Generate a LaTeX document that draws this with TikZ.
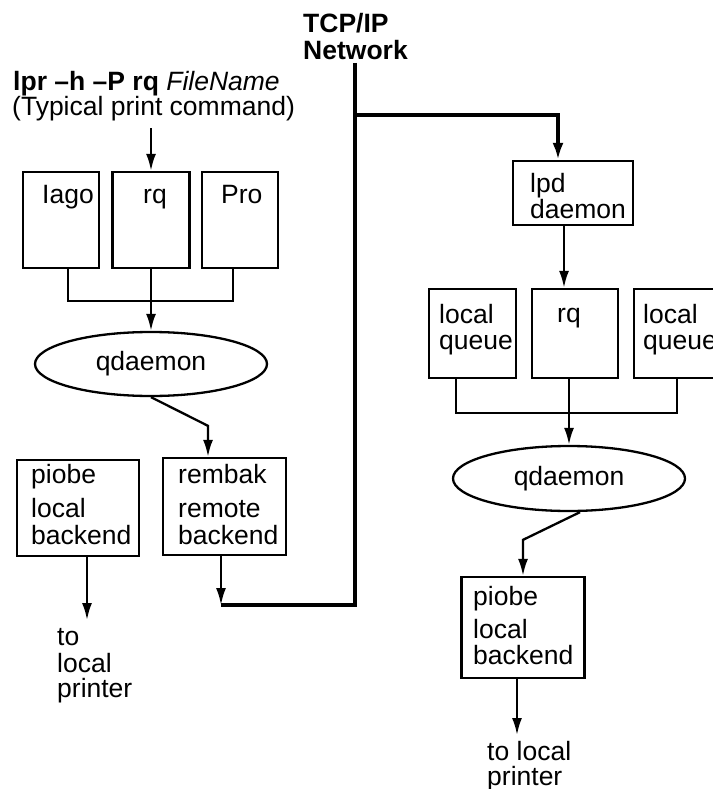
\documentclass[tikz,border=0pt]{standalone}
\usepackage{fontspec}
\setmainfont{Liberation Sans}
\usetikzlibrary{arrows.meta,shapes.geometric}
\begin{document}
\begin{tikzpicture}[x=1pt,y=-1pt,
  txt/.style={font=\fontsize{26.5}{27}\selectfont, anchor=base west, inner sep=0pt},
  btxt/.style={txt, font=\fontsize{26.5}{27}\selectfont\bfseries},
  box/.style={draw, line width=2.3pt, inner sep=0pt},
  oval/.style={draw, ellipse, line width=2.3pt, inner sep=0pt,
               font=\fontsize{26.5}{27}\selectfont},
  conn/.style={line width=2.3pt},
  arr/.style={conn, -{Latex[length=17pt,width=10pt]}},
  net/.style={line width=4.3pt},
  netarr/.style={net, -{Latex[length=17pt,width=11pt]}}]
\useasboundingbox (0,0) rectangle (712,789);

% ---------- command and network labels ----------
\node[btxt] (cmd) at (13,91) {lpr –h –P rq \textmd{\itshape FileName}};
\node[txt] (cmdnote) at (12,116) {(Typical print command)};
\node[btxt] (tcp) at (303,33) {TCP/IP};
\node[btxt] (netw) at (303,60) {Network};

% ---------- local host ----------
\node[box, minimum width=76pt, minimum height=96pt] (iago) at (61,220) {};
\node[box, minimum width=77pt, minimum height=96pt] (rq)   at (151,220) {};
\node[box, minimum width=76pt, minimum height=96pt] (pro)  at (240,220) {};
\node[txt] (iagot) at (42,203) {Iago};
\node[txt] (rqt)   at (143,203) {rq};
\node[txt] (prot)  at (221,203) {Pro};

\node[oval, minimum width=232pt, minimum height=64pt] (qd1) at (151,364) {qdaemon};

\node[box, minimum width=122pt, minimum height=96pt] (piobe1) at (78,508) {};
\node[box, minimum width=123pt, minimum height=97pt] (rembak) at (224.5,506.5) {};
\node[txt] (p1a) at (31,483) {piobe};
\node[txt] (p1b) at (31,517) {local};
\node[txt] (p1c) at (31,544) {backend};
\node[txt] (rba) at (178,483) {rembak};
\node[txt] (rbb) at (178,517) {remote};
\node[txt] (rbc) at (178,544) {backend};

\node[txt] (lp1a) at (57,645) {to};
\node[txt] (lp1b) at (57,672) {local};
\node[txt] (lp1c) at (57,697) {printer};

% ---------- remote host ----------
\node[box, minimum width=120pt, minimum height=64pt] (lpd) at (573,193) {};
\node[txt] (lpda) at (530,192) {lpd};
\node[txt] (lpdb) at (530,218) {daemon};

\node[box, minimum width=87pt, minimum height=89pt] (lq1) at (472.5,333.5) {};
\node[box, minimum width=86pt, minimum height=89pt] (rq2) at (575,333.5) {};
\node[box, minimum width=86pt, minimum height=89pt] (lq2) at (677,333.5) {};
\node[txt] (lq1a) at (439,323) {local};
\node[txt] (lq1b) at (439,349) {queue};
\node[txt] (rq2t) at (557,322) {rq};
\node[txt] (lq2a) at (643,323) {local};
\node[txt] (lq2b) at (643,349) {queue};

\node[oval, minimum width=232pt, minimum height=65pt] (qd2) at (569,478.5) {qdaemon};

\node[box, minimum width=123pt, minimum height=101pt] (piobe2) at (523,627.5) {};
\node[txt] (p2a) at (473,605) {piobe};
\node[txt] (p2b) at (473,638) {local};
\node[txt] (p2c) at (473,664) {backend};

\node[txt] (lp2a) at (487,760) {to local};
\node[txt] (lp2b) at (487,785) {printer};

% ---------- free connector ends ----------
\coordinate (cmdfoot) at (151,128);
\coordinate (lpend1) at (87,620);
\coordinate (join) at (221,605);
\coordinate (nettop) at (355,63);
\coordinate (netbot) at (355,605);
\coordinate (tap) at (355,115);
\coordinate (lpend2) at (517,735);

% ---------- local connectors ----------
\draw[arr] (cmdfoot) -- (rq.north);
\draw[conn] ([xshift=7pt]iago.south) -- ++(0,32) -| ([xshift=-7pt]pro.south);
\draw[arr] (rq.south) -- (qd1.north);
\draw[arr] (qd1.south) -- ([xshift=-16.5pt,yshift=31pt]rembak.north)
           -- ([xshift=-16.5pt]rembak.north);
\draw[arr] ([xshift=9pt]piobe1.south) -- (lpend1);
\draw[arr] ([xshift=-3.5pt]rembak.south) -- (join);

% ---------- network ----------
\draw[net] (nettop) -- (netbot) -- (join);
\draw[netarr] (tap) -| ([xshift=-15pt]lpd.north);

% ---------- remote connectors ----------
\draw[arr] ([xshift=-9pt]lpd.south) -- ([xshift=-11pt]rq2.north);
\draw[conn] ([xshift=-16.5pt]lq1.south) -- ++(0,34) -| (lq2.south);
\draw[arr] ([xshift=-6pt]rq2.south) -- (qd2.north);
\draw[arr] ([xshift=11pt]qd2.south) -- ([yshift=36pt]piobe2.north)
           -- (piobe2.north);
\draw[arr] ([xshift=-6pt]piobe2.south) -- (lpend2);
\end{tikzpicture}
\end{document}
